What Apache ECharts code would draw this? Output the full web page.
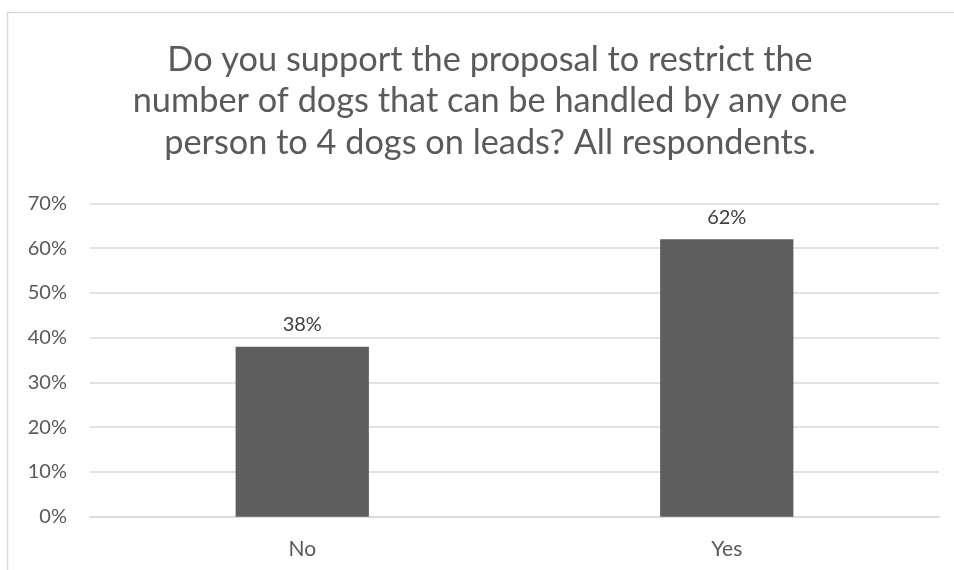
<!DOCTYPE html>
<html>
<head>
<meta charset="utf-8">
<script src="https://cdn.jsdelivr.net/npm/echarts@6/dist/echarts.min.js"></script>
<style>
html,body{margin:0;padding:0;background:#fff;}
#chart{width:954px;height:570px;}
</style>
</head>
<body>
<div id="chart"></div>
<script>
const titleText = "Do you support the proposal to restrict the\nnumber of dogs that can be handled by any one\nperson to 4 dogs on leads? All respondents.";
const categories = ["No", "Yes"];
const values = [38, 62];
const yMin = 0;
const yMax = 70;
const yInterval = 10;

const chart = echarts.init(document.getElementById('chart'), null, {renderer: 'canvas'});
chart.setOption({
  animation: false,
  backgroundColor: '#ffffff',
  graphic: [{
    type: 'rect',
    z: -10,
    shape: {x: 7.5, y: 12.5, width: 960, height: 580},
    style: {fill: '#ffffff', stroke: '#d9d9d9', lineWidth: 1.5}
  }],
  title: {
    text: titleText,
    left: 490,
    textAlign: 'center',
    top: 39,
    padding: 0,
    textStyle: {
      fontFamily: 'Lato',
      fontSize: 34.3,
      fontWeight: 'normal',
      color: '#5a5a5a',
      lineHeight: 41.5
    }
  },
  grid: {left: 90, right: 15, top: 203.5, bottom: 53.3, containLabel: false},
  xAxis: {
    type: 'category',
    data: categories,
    axisLine: {show: true, lineStyle: {color: '#d9d9d9', width: 1.5}},
    axisTick: {show: false},
    axisLabel: {
      margin: 22,
      fontFamily: 'Lato',
      fontSize: 21,
      color: '#595959'
    }
  },
  yAxis: {
    type: 'value',
    min: yMin,
    max: yMax,
    interval: yInterval,
    axisLine: {show: false},
    axisTick: {show: false},
    splitLine: {lineStyle: {color: '#d9d9d9', width: 1.5}},
    axisLabel: {
      margin: 23,
      formatter: '{value}%',
      fontFamily: 'Lato',
      fontSize: 20,
      color: '#595959'
    }
  },
  series: [{
    type: 'bar',
    data: values,
    barWidth: '31.4%',
    itemStyle: {color: '#5e5e5e'},
    label: {
      show: true,
      position: 'top',
      distance: 12,
      formatter: '{c}%',
      fontFamily: 'Lato',
      fontSize: 20,
      color: '#404040'
    }
  }]
});
</script>
</body>
</html>
